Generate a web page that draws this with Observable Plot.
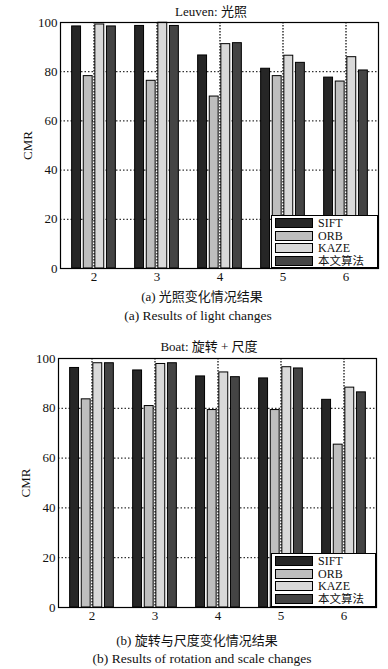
<!DOCTYPE html>
<html>
<head>
<meta charset="utf-8">
<script src="https://cdn.jsdelivr.net/npm/d3@7"></script>
<script src="https://cdn.jsdelivr.net/npm/@observablehq/plot@0.6"></script>
<style>
  html, body { margin: 0; padding: 0; background: #fff; }
  body { position: relative; width: 388px; height: 669px; overflow: hidden; font-family: "Liberation Serif", "Noto Sans CJK SC", serif; color: #111; }
  .abs { position: absolute; text-align: center; white-space: nowrap; }
  .legend { position: absolute; background: #fff; border: 1px solid #000; box-sizing: border-box; padding: 1px 3px; }
  .legend .row { display: flex; align-items: center; height: 12.5px; overflow: hidden; }
  .legend .sw { width: 38px; height: 10px; border: 1px solid #000; box-sizing: border-box; margin-right: 5px; flex: none; }
  .legend .lb { font-size: 12px; line-height: 12px; }
  .legend .lb.cjk { font-size: 11.5px; }
  svg { display: block; position: absolute; left: 0; }
  svg, svg text { font-family: "Liberation Serif", "Noto Sans CJK SC", serif !important; }
</style>
</head>
<body>
<script>
// ---- data ----
const groups = ["2", "3", "4", "5", "6"];
const series = ["SIFT", "ORB", "KAZE", "本文算法"];
const colors = ["#262626", "#bebebe", "#d9d9d9", "#444444"];
const yTicks = [0, 20, 40, 60, 80, 100];
const gridValues = [20, 40, 60, 80];

const leuvenSIFT = [98.4, 98.6, 86.6, 81.2, 77.6];
const leuvenORB  = [78.2, 76.3, 69.9, 78.2, 76.0];
const leuvenKAZE = [99.2, 99.9, 91.2, 86.5, 85.9];
const leuvenOurs = [98.4, 98.6, 91.6, 83.6, 80.5];

const boatSIFT = [96.2, 95.2, 92.8, 92.0, 83.4];
const boatORB  = [83.6, 80.9, 79.3, 79.3, 65.4];
const boatKAZE = [98.1, 97.8, 94.4, 96.5, 88.3];
const boatOurs = [98.1, 98.1, 92.5, 96.0, 86.4];

const charts = [
  {
    title: "Leuven: 光照", titleX: 211, titleY: 12,
    values: [leuvenSIFT, leuvenORB, leuvenKAZE, leuvenOurs],
    svgTop: 0, ml: 60, mr: 10, frameTop: 22, frameBottom: 268,
    legend: {top: 215, left: 271, width: 107, height: 53},
    cap1: "(a) 光照变化情况结果", cap1X: 202, cap1Y: 297,
    cap2: "(a) Results of light changes", cap2X: 198, cap2Y: 316
  },
  {
    title: "Boat: 旋转 + 尺度", titleX: 209, titleY: 347,
    values: [boatSIFT, boatORB, boatKAZE, boatOurs],
    svgTop: 330, ml: 58, mr: 12, frameTop: 358, frameBottom: 607,
    legend: {top: 553, left: 271, width: 105, height: 54},
    cap1: "(b) 旋转与尺度变化情况结果", cap1X: 197, cap1Y: 641,
    cap2: "(b) Results of rotation and scale changes", cap2X: 202, cap2Y: 659
  }
];

const W = 388;

function addText(txt, cx, cy, size) {
  const d = document.createElement("div");
  d.className = "abs";
  d.style.left = (cx - 150) + "px";
  d.style.width = "300px";
  d.style.top = (cy - 9) + "px";
  d.style.height = "18px";
  d.style.lineHeight = "18px";
  d.style.fontSize = size + "px";
  d.textContent = txt;
  document.body.appendChild(d);
}

charts.forEach((c) => {
  const rows = [];
  series.forEach((s, si) => groups.forEach((g, gi) => rows.push({series: s, si, group: g, value: c.values[si][gi]})));

  const mt = c.frameTop - c.svgTop;
  const mb = 18;
  const height = c.frameBottom - c.svgTop + mb;
  const band = (W - c.ml - c.mr) / groups.length;
  const barW = 9.5, pitch = 11.6;

  const barMarks = series.map((s, si) => Plot.barY(rows.filter(d => d.si === si), {
    x: "group", y: "value",
    fill: colors[si], stroke: "#000", strokeWidth: 1,
    insetLeft: (band - barW) / 2, insetRight: (band - barW) / 2,
    dx: (si - 1.5) * pitch
  }));

  const svg = Plot.plot({
    width: W, height,
    marginLeft: c.ml, marginRight: c.mr, marginTop: mt, marginBottom: mb,
    style: {fontSize: "13px", color: "#111", background: "transparent"},
    x: {domain: groups, padding: 0, tickSize: 0, tickPadding: 3, label: null},
    y: {domain: [0, 100], ticks: yTicks, tickSize: 0, tickPadding: 3, label: "CMR", labelArrow: false, labelAnchor: "center", labelOffset: 38},
    marks: [
      Plot.ruleY(gridValues, {stroke: "#000", strokeWidth: 1, strokeDasharray: "1.5,2"}),
      ...barMarks,
      Plot.ruleX(groups, {x: d => d, stroke: "#000", strokeWidth: 1.2, strokeDasharray: "1.5,1.5"}),
      Plot.frame({stroke: "#000", strokeWidth: 1.2})
    ]
  });
  svg.style.top = c.svgTop + "px";
  document.body.appendChild(svg);

  addText(c.title, c.titleX, c.titleY, 13);

  const lg = document.createElement("div");
  lg.className = "legend";
  lg.style.top = c.legend.top + "px";
  lg.style.left = c.legend.left + "px";
  lg.style.width = c.legend.width + "px";
  lg.style.height = c.legend.height + "px";
  series.forEach((s, si) => {
    const r = document.createElement("div");
    r.className = "row";
    const sw = document.createElement("div");
    sw.className = "sw";
    sw.style.background = colors[si];
    const lb = document.createElement("div");
    lb.className = "lb" + (/[\u4e00-\u9fff]/.test(s) ? " cjk" : "");
    lb.textContent = s;
    r.appendChild(sw); r.appendChild(lb);
    lg.appendChild(r);
  });
  document.body.appendChild(lg);

  addText(c.cap1, c.cap1X, c.cap1Y, 13);
  addText(c.cap2, c.cap2X, c.cap2Y, 13.5);
});
</script>
</body>
</html>
